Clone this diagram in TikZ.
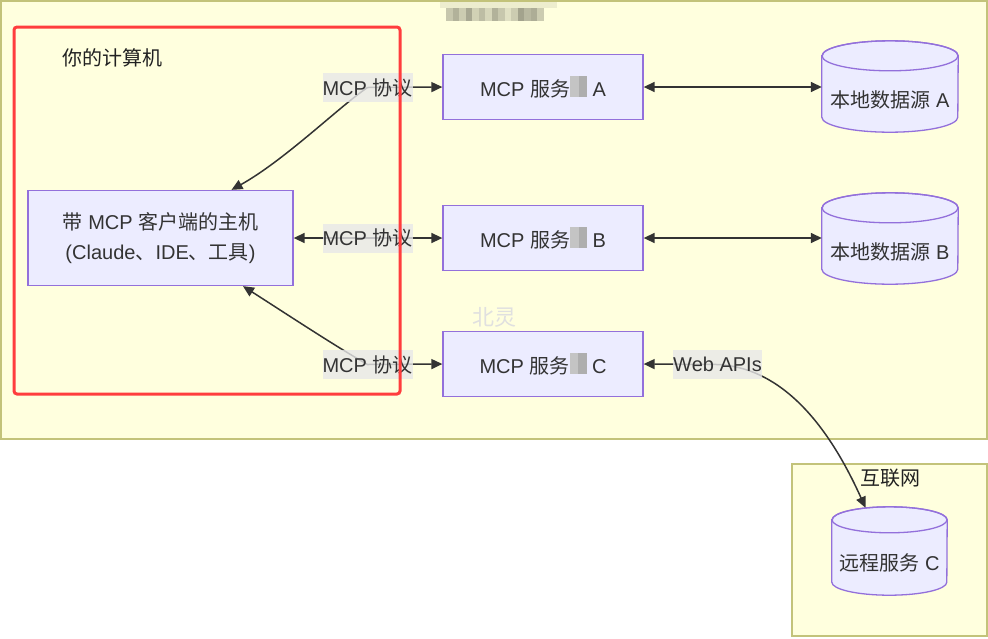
\documentclass[tikz,border=0pt]{standalone}
\usepackage{fontspec}
\setmainfont{Liberation Sans}
\newfontfamily\cjk{Noto Sans CJK SC}
\newcommand{\zh}[1]{{\cjk #1}}
\usetikzlibrary{arrows.meta}
\definecolor{txt}{HTML}{333333}
\definecolor{nodefill}{HTML}{ECECFF}
\definecolor{nodeline}{HTML}{9370DB}
\definecolor{clfill}{HTML}{FFFFDE}
\definecolor{clline}{HTML}{C3C37A}
\definecolor{lblbg}{HTML}{E8E8E8}
\definecolor{redline}{HTML}{FF3D3D}
\definecolor{blurA}{HTML}{AEAEAE}
\definecolor{blurB}{HTML}{C4C4C4}
\newcommand{\blurchar}{{\color{blurB}\rule[-1pt]{8.5pt}{21pt}}{\color{blurA}\rule[-1pt]{8.5pt}{21pt}}}
\newcommand{\drawcyl}[3]{%
  \path[draw=nodeline, fill=nodefill, line width=1.3pt]
    ([yshift=-#3]#1.north west) -- ([yshift=#3]#1.south west)
    arc[start angle=180, end angle=360, x radius=#2, y radius=#3]
    -- ([yshift=-#3]#1.north east)
    arc[start angle=0, end angle=180, x radius=#2, y radius=#3] -- cycle;
  \draw[nodeline, line width=1.3pt] ([yshift=-#3]#1.north) ellipse[x radius=#2, y radius=#3];
}
\tikzset{
  basefont/.style={font=\fontsize{20pt}{30pt}\selectfont},
  proc/.style={draw=nodeline, fill=nodefill, line width=1.3pt, text=txt, basefont,
    minimum width=200pt, minimum height=65pt, inner sep=0pt, align=center},
  cylbox/.style={inner sep=0pt},
  cyltext/.style={text=txt, basefont, inner sep=0pt},
  elbl/.style={fill=lblbg, fill opacity=0.8, text opacity=1, text=txt, basefont,
    minimum width=89pt, minimum height=29pt, inner sep=0pt},
  conn/.style={draw=txt, line width=1.5pt,
    {Triangle[length=11pt,width=10pt]}-{Triangle[length=11pt,width=10pt]}},
  cluster/.style={draw=clline, fill=clfill, line width=1.5pt},
  cltitle/.style={text=black!87, basefont, inner sep=0pt},
}
\begin{document}
\begin{tikzpicture}[x=1pt,y=-1pt]
\useasboundingbox (0,0) rectangle (988,638);
% clusters
\path[cluster] (0.75,0.75) rectangle (987,439);
\path[cluster] (792,464) rectangle (987,636);
% blurred title
\fill[black, opacity=0.07] (440,2) rectangle (557,7.5);
\foreach \i/\o in {0/0.22,1/0.30,2/0.20,3/0.34,4/0.18,5/0.26,6/0.16,7/0.30,8/0.22,9/0.12,10/0.20,11/0.36,12/0.28,13/0.32,14/0.20}{
  \fill[black, opacity=\o] (446+\i*6.5,7.5) rectangle ++(6.5,13.5);
}
% watermark
\node[text=black!12, font=\fontsize{22pt}{24pt}\selectfont, inner sep=0pt] (wm) at (494.5,317) {\zh{北灵}};
% cluster titles
\node[cltitle] (tcomp) at (112.5,58) {\zh{你的计算机}};
\node[cltitle] (tnet) at (890,478) {\zh{互联网}};
% nodes
\node[proc, minimum width=265pt, minimum height=95pt] (host) at (160.5,238)
  {\raisebox{-2pt}{\zh{带} MCP \zh{客户端的主机}}\\\raisebox{-2pt}{(Claude\zh{、}IDE\zh{、工具})}};
\node[proc] (srvA) at (543,87) {MCP \zh{服务}\blurchar\ A};
\node[proc] (srvB) at (543,238) {MCP \zh{服务}\blurchar\ B};
\node[proc] (srvC) at (543,364) {MCP \zh{服务}\blurchar\ C};
\node[cylbox, minimum width=136pt, minimum height=91pt] (dbA) at (890,86.5) {};
\node[cylbox, minimum width=136pt, minimum height=91pt] (dbB) at (890,238.5) {};
\node[cylbox, minimum width=115pt, minimum height=88pt] (rem) at (889.5,551) {};
\drawcyl{dbA}{68pt}{15pt}
\drawcyl{dbB}{68pt}{15pt}
\drawcyl{rem}{57.5pt}{13pt}
\node[cyltext] (dbAt) at ([yshift=-13pt]dbA.center) {\zh{本地数据源} A};
\node[cyltext] (dbBt) at ([yshift=-13pt]dbB.center) {\zh{本地数据源} B};
\node[cyltext] (remt) at ([yshift=-12pt]rem.center) {\zh{远程服务} C};
% edge label positions
\coordinate (lA) at (367.5,87.5);
\coordinate (lB) at (367.5,238);
\coordinate (lC) at (367.5,364.5);
\coordinate (lW) at (717.5,364.5);
% connectors
\draw[conn] ([xshift=71pt]host.north) .. controls (285,160) and (340,106) .. (lA) -- (srvA.west);
\draw[conn] (host.east) -- (srvB.west);
\draw[conn] ([xshift=82.5pt]host.south) .. controls (285,313) and (335,346) .. (lC) -- (srvC.west);
\draw[conn] (srvA.east) -- (srvA.east -| dbA.west);
\draw[conn] (srvB.east) -- (srvB.east -| dbB.west);
\draw[conn] (srvC.east) -- (lW) .. controls (790,368) and (835,440) .. ([xshift=-24pt,yshift=-1pt]rem.north);
% edge labels
\node[elbl] (lblA) at (lA) {MCP \zh{协议}};
\node[elbl] (lblB) at (lB) {MCP \zh{协议}};
\node[elbl] (lblC) at (lC) {MCP \zh{协议}};
\node[elbl] (lblW) at (lW) {Web APIs};
% red frame
\draw[redline, line width=3pt, rounded corners=3pt] (14,27) rectangle (400,394);
\end{tikzpicture}
\end{document}
